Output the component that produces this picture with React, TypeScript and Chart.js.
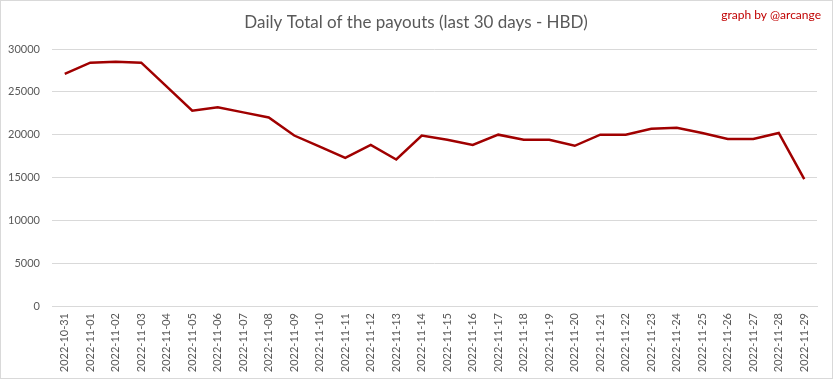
import React, { useEffect, useRef } from "react";
import { Chart, registerables } from "chart.js";

Chart.register(...registerables);

const TITLE = "Daily Total of the payouts (last 30 days - HBD)";
const CREDIT = "graph by @arcange";

const dates = [
  "2022-10-31", "2022-11-01", "2022-11-02", "2022-11-03", "2022-11-04",
  "2022-11-05", "2022-11-06", "2022-11-07", "2022-11-08", "2022-11-09",
  "2022-11-10", "2022-11-11", "2022-11-12", "2022-11-13", "2022-11-14",
  "2022-11-15", "2022-11-16", "2022-11-17", "2022-11-18", "2022-11-19",
  "2022-11-20", "2022-11-21", "2022-11-22", "2022-11-23", "2022-11-24",
  "2022-11-25", "2022-11-26", "2022-11-27", "2022-11-28", "2022-11-29",
];

const payouts = [
  27100, 28400, 28500, 28400, 25600,
  22800, 23200, 22600, 22000, 19900,
  18600, 17300, 18800, 17100, 19900,
  19400, 18800, 20000, 19400, 19400,
  18700, 20000, 20000, 20700, 20800,
  20200, 19500, 19500, 20200, 14800,
];

const yTicks = [0, 5000, 10000, 15000, 20000, 25000, 30000];

const FONT = "Lato, 'Open Sans', sans-serif";

export default function App() {
  const ref = useRef<HTMLCanvasElement | null>(null);

  useEffect(() => {
    document.body.style.margin = "0";
    const canvas = ref.current;
    if (!canvas) return;

    const decor = {
      id: "decor",
      beforeDraw(chart: any) {
        const { ctx, width, height } = chart;
        ctx.save();
        ctx.fillStyle = "#ffffff";
        ctx.fillRect(0, 0, width, height);
        ctx.strokeStyle = "#d9d9d9";
        ctx.lineWidth = 1;
        ctx.strokeRect(0.5, 0.5, width - 1, height - 1);
        ctx.restore();
      },
      afterDraw(chart: any) {
        const { ctx } = chart;
        ctx.save();
        ctx.textBaseline = "middle";
        ctx.textAlign = "center";
        ctx.fillStyle = "#595959";
        ctx.font = `17px ${FONT}`;
        ctx.fillText(TITLE, 416, 23);
        ctx.textAlign = "right";
        ctx.fillStyle = "#c00000";
        ctx.font = `12px ${FONT}`;
        ctx.fillText(CREDIT, 821, 15);
        ctx.restore();
      },
    };

    const chart = new Chart(canvas, {
      type: "line",
      data: {
        labels: dates,
        datasets: [
          {
            data: payouts,
            borderColor: "#a00000",
            borderWidth: 2.5,
            pointRadius: 0,
            tension: 0,
            fill: false,
          },
        ],
      },
      options: {
        responsive: false,
        animation: false,
        layout: { padding: { top: 49, right: 16, bottom: 0, left: 0 } },
        plugins: {
          legend: { display: false },
          title: { display: false },
          tooltip: { enabled: false },
        },
        scales: {
          x: {
            offset: true,
            grid: { display: false, drawTicks: false },
            border: { display: true, color: "#d9d9d9", width: 1 },
            ticks: {
              autoSkip: false,
              minRotation: 90,
              maxRotation: 90,
              padding: 7,
              color: "#595959",
              font: { family: FONT, size: 11 },
            },
            afterFit(scale: any) {
              scale.height = 73;
            },
          },
          y: {
            min: 0,
            max: 30000,
            afterBuildTicks(scale: any) {
              scale.ticks = yTicks.map((v) => ({ value: v }));
            },
            grid: { color: "#d9d9d9", drawTicks: false, lineWidth: 1 },
            border: { display: false },
            ticks: {
              padding: 12,
              color: "#595959",
              font: { family: FONT, size: 11 },
              callback: (v: any) => String(v),
            },
            afterFit(scale: any) {
              scale.width = 52;
            },
          },
        },
      },
      plugins: [decor],
    });

    return () => chart.destroy();
  }, []);

  return (
    <div style={{ position: "absolute", left: 0, top: 0, width: 833, height: 379 }}>
      <canvas ref={ref} width={833} height={379} style={{ display: "block" }} />
    </div>
  );
}
